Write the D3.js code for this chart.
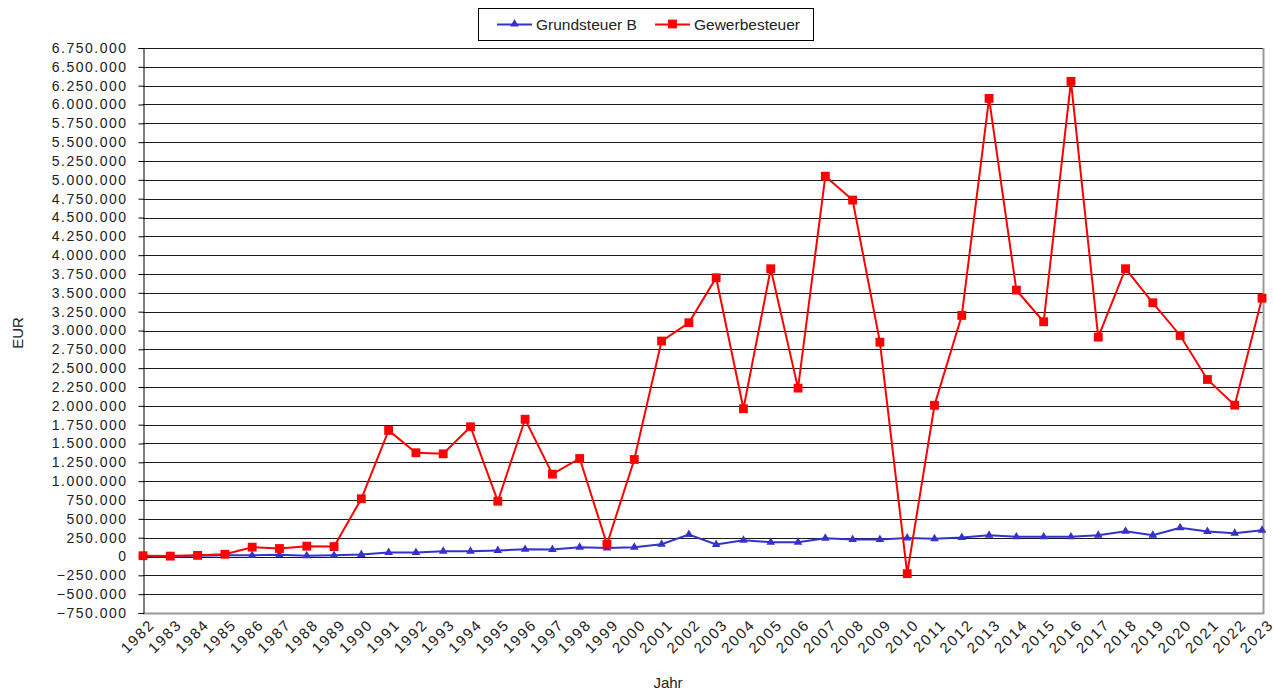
<!DOCTYPE html>
<html lang="de">
<head>
<meta charset="utf-8">
<script src="https://cdn.jsdelivr.net/npm/d3@7"></script>
<style>
  body { margin:0; background:#fff; }
  svg { font-family: "Liberation Sans", Arial, sans-serif; }
  .ytick text { font-size:14px; letter-spacing:1.5px; fill:#222; }
  .xtick text { font-size:15px; letter-spacing:1.8px; fill:#222; }
  .lbl { font-size:15px; fill:#222; }
  .legend text { font-size:15.5px; fill:#222; }
</style>
<title>Grundsteuer B und Gewerbesteuer</title>
</head>
<body>
<script>
// Jahre und Werte (EUR)
const years = d3.range(1982, 2024);

const grundsteuerB = [5000, 5000, 10000, 15000, 15000, 22000, 10000, 15000, 27000, 53000,
  53000, 70000, 70000, 80000, 95000, 93000, 124000, 114000, 124000, 163000,
  292000, 159000, 216000, 190000, 190000, 243000, 226000, 226000, 245000, 235000,
  252000, 283000, 261000, 261000, 261000, 283000, 336000, 283000, 381000, 332000,
  309000, 349000];

const gewerbesteuer = [10000, 5000, 15000, 30000, 124000, 106000, 137000, 132000, 766000, 1673000,
  1377000, 1363000, 1722000, 734000, 1822000, 1093000, 1301000, 163000, 1288000, 2860000,
  3103000, 3700000, 1961000, 3820000, 2235000, 5049000, 4731000, 2845000, -228000, 2007000,
  3200000, 6081000, 3536000, 3116000, 6307000, 2912000, 3820000, 3368000, 2934000, 2350000,
  2009000, 3429000];

const yTicks = d3.range(-750000, 6750001, 250000);

const W = 1274, H = 691;
const m = {left:143, right:1263, top:48, bottom:613};

const svg = d3.select("body").append("svg")
  .attr("width", W).attr("height", H);

const x = d3.scaleLinear().domain([1982, 2023]).range([m.left, m.right - 1]);
const y = d3.scaleLinear().domain([-750000, 6750000]).range([m.bottom, m.top]);

const fmt = v => v === 0 ? "0" : d3.format(",")(v).replace(/,/g, ".");

// gridlines
svg.append("g")
  .selectAll("line")
  .data(yTicks)
  .enter().append("line")
  .attr("x1", m.left).attr("x2", m.right)
  .attr("y1", d => Math.round(y(d)) + 0.5).attr("y2", d => Math.round(y(d)) + 0.5)
  .attr("stroke", "#1a1a1a").attr("stroke-width", 1);

// right + bottom frame (grey)
svg.append("line")
  .attr("x1", m.left).attr("x2", m.right + 1)
  .attr("y1", m.bottom + 0.5).attr("y2", m.bottom + 0.5)
  .attr("stroke", "#999").attr("stroke-width", 2);
svg.append("line")
  .attr("x1", m.right + 0.5).attr("x2", m.right + 0.5)
  .attr("y1", m.top).attr("y2", m.bottom + 1)
  .attr("stroke", "#999").attr("stroke-width", 2);

// y axis
const yAxis = d3.axisLeft(y).tickValues(yTicks).tickFormat(fmt).tickSize(5).tickPadding(11);
const ya = svg.append("g").attr("class", "ytick")
  .attr("transform", `translate(${m.left + 0.5},0)`)
  .call(yAxis);
ya.select(".domain").attr("stroke", "#000");
ya.selectAll(".tick line").attr("stroke", "#000");
ya.selectAll("text").attr("font-family", null).attr("font-size", null).attr("fill", null);

// x labels
const xg = svg.append("g").attr("class", "xtick");
xg.selectAll("text")
  .data(years)
  .enter().append("text")
  .attr("transform", d => `translate(${x(d) + 5},${m.bottom + 5}) rotate(-45)`)
  .attr("text-anchor", "end")
  .attr("dy", "0.72em")
  .text(d => d);

// axis titles
svg.append("text").attr("class", "lbl")
  .attr("transform", "translate(23,333) rotate(-90)")
  .attr("text-anchor", "middle")
  .text("EUR");
svg.append("text").attr("class", "lbl")
  .attr("x", 668).attr("y", 688)
  .attr("text-anchor", "middle")
  .text("Jahr");

// lines
const line = d3.line().x((d, i) => x(years[i])).y(d => y(d));

const blue = "#3333CC", red = "#FF0000";

svg.append("path")
  .datum(grundsteuerB)
  .attr("fill", "none").attr("stroke", blue).attr("stroke-width", 2)
  .attr("d", line);

svg.append("path")
  .datum(gewerbesteuer)
  .attr("fill", "none").attr("stroke", red).attr("stroke-width", 2)
  .attr("d", line);

const tri = d3.symbol().type(d3.symbolTriangle).size(32);
const sq = d3.symbol().type(d3.symbolSquare).size(78);

svg.append("g").selectAll("path")
  .data(grundsteuerB)
  .enter().append("path")
  .attr("d", tri)
  .attr("transform", (d, i) => `translate(${x(years[i])},${y(d)})`)
  .attr("fill", blue);

svg.append("g").selectAll("path")
  .data(gewerbesteuer)
  .enter().append("path")
  .attr("d", sq)
  .attr("transform", (d, i) => `translate(${x(years[i])},${y(d)})`)
  .attr("fill", red);

// legend
const lg = svg.append("g").attr("class", "legend");
lg.append("rect")
  .attr("x", 478.5).attr("y", 8.5).attr("width", 335).attr("height", 32)
  .attr("fill", "#fff").attr("stroke", "#000").attr("stroke-width", 1);

const items = [
  {name: "Grundsteuer B", color: blue, sym: tri, x0: 497},
  {name: "Gewerbesteuer", color: red, sym: sq, x0: 655}
];
items.forEach(it => {
  lg.append("line")
    .attr("x1", it.x0).attr("x2", it.x0 + 35)
    .attr("y1", 24.5).attr("y2", 24.5)
    .attr("stroke", it.color).attr("stroke-width", 2);
  lg.append("path")
    .attr("d", it.sym)
    .attr("transform", `translate(${it.x0 + 17.5},24)`)
    .attr("fill", it.color);
  lg.append("text")
    .attr("x", it.x0 + 39).attr("y", 30)
    .text(it.name);
});
</script>
</body>
</html>
